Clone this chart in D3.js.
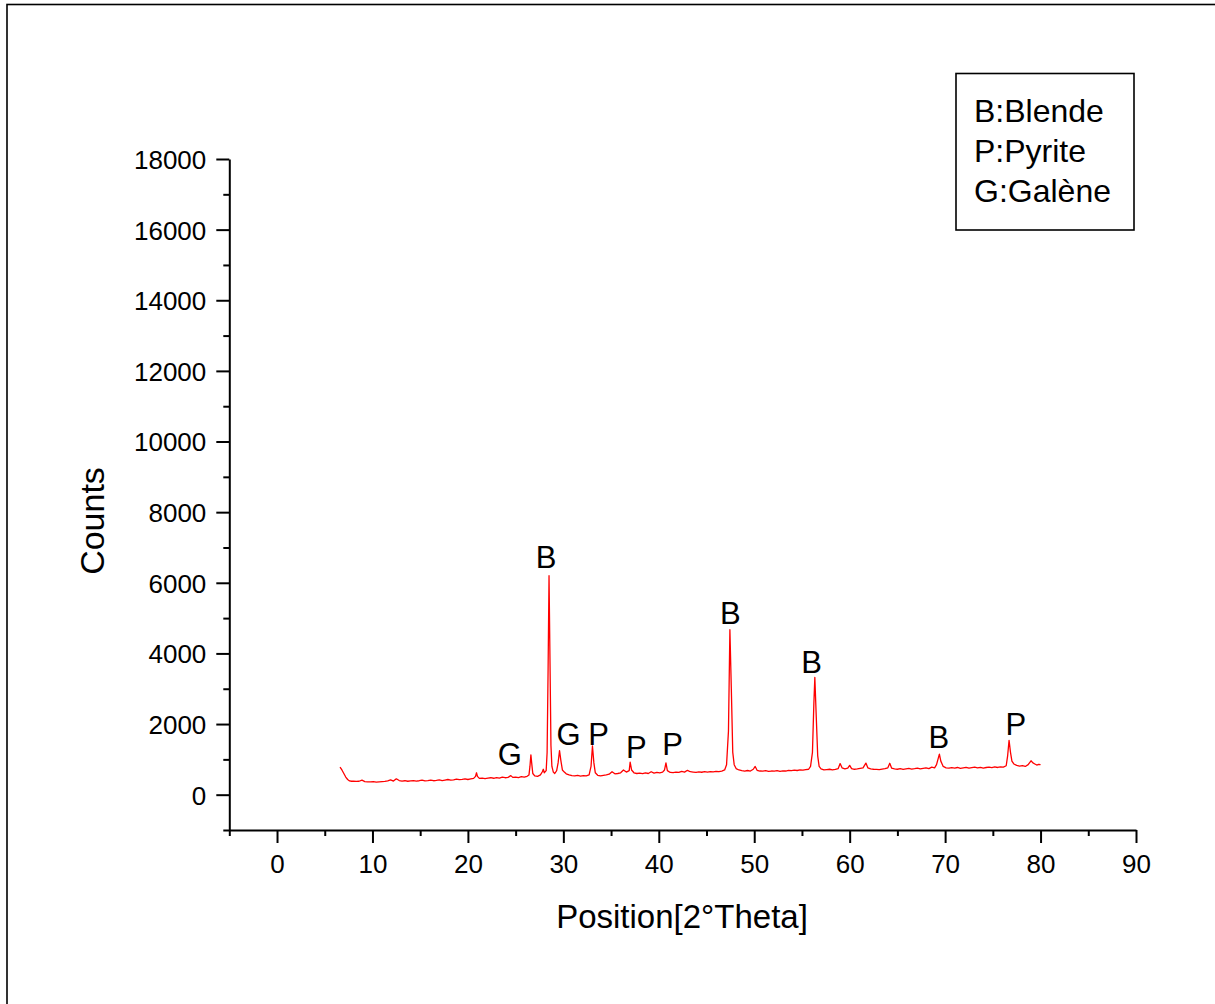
<!DOCTYPE html>
<html>
<head>
<meta charset="utf-8">
<script src="https://cdn.jsdelivr.net/npm/d3@7"></script>
<style>
  html, body { margin: 0; padding: 0; background: #fff; }
  svg { display: block; font-family: "Liberation Sans", Arial, sans-serif; }
</style>
</head>
<body>
<svg id="chart" width="1215" height="1004"></svg>
<script>
// ---- Data ----
const twoTheta = [
  6.6, 6.8, 7.0, 7.2, 7.4, 7.6, 7.8, 8.0, 8.3, 8.6, 8.9, 9.2, 9.5, 9.8, 10.1, 10.4, 10.7, 11.0, 11.3, 11.6,
  11.9, 12.2, 12.5, 12.8, 13.1, 13.4, 13.7, 14.0, 14.3, 14.6, 14.9, 15.2, 15.5, 15.8, 16.1, 16.4, 16.7, 17.0,
  17.3, 17.6, 17.9, 18.2, 18.5, 18.8, 19.1, 19.4, 19.7, 20.0, 20.3, 20.6, 20.8, 20.9, 21.0, 21.2, 21.5, 21.8,
  22.1, 22.4, 22.7, 23.0, 23.3, 23.6, 23.9, 24.2, 24.5, 24.7, 25.0, 25.3, 25.6, 25.9, 26.2, 26.4, 26.5, 26.6,
  26.7, 26.8, 27.0, 27.3, 27.6, 27.8, 27.9, 28.0, 28.2, 28.3, 28.4, 28.5, 28.6, 28.7, 28.8, 28.95, 29.1, 29.3,
  29.45, 29.6, 29.75, 29.9, 30.1, 30.3, 30.6, 30.9, 31.2, 31.5, 31.8, 32.1, 32.4, 32.7, 32.9, 33.05, 33.2, 33.35,
  33.6, 33.9, 34.2, 34.5, 34.8, 35.1, 35.4, 35.7, 36.0, 36.3, 36.6, 36.9, 37.0, 37.15, 37.4, 37.7, 38.0, 38.3,
  38.6, 38.9, 39.2, 39.5, 39.8, 40.1, 40.4, 40.6, 40.75, 40.9, 41.2, 41.5, 41.8, 42.1, 42.4, 42.7, 43.0, 43.3,
  43.6, 43.9, 44.2, 44.5, 44.8, 45.1, 45.4, 45.7, 46.0, 46.3, 46.6, 46.9, 47.1, 47.3, 47.45, 47.6, 47.75, 47.9,
  48.1, 48.4, 48.7, 49.0, 49.3, 49.6, 49.9, 50.1, 50.3, 50.6, 50.9, 51.2, 51.5, 51.8, 52.1, 52.4, 52.7, 53.0,
  53.3, 53.6, 53.9, 54.2, 54.5, 54.8, 55.1, 55.4, 55.7, 55.9, 56.1, 56.25, 56.35, 56.5, 56.65, 56.8, 57.0, 57.3,
  57.6, 57.9, 58.2, 58.5, 58.8, 59.0, 59.2, 59.5, 59.8, 60.0, 60.2, 60.5, 60.8, 61.1, 61.4, 61.7, 61.9, 62.2,
  62.5, 62.8, 63.1, 63.4, 63.7, 64.0, 64.2, 64.4, 64.7, 65.0, 65.3, 65.6, 65.9, 66.2, 66.5, 66.8, 67.1, 67.4,
  67.7, 68.0, 68.3, 68.6, 68.9, 69.1, 69.3, 69.4, 69.55, 69.8, 70.1, 70.4, 70.7, 71.0, 71.3, 71.6, 71.9, 72.2,
  72.5, 72.8, 73.1, 73.4, 73.7, 74.0, 74.3, 74.6, 74.9, 75.2, 75.5, 75.8, 76.1, 76.4, 76.55, 76.7, 76.85, 77.0,
  77.2, 77.5, 77.8, 78.1, 78.4, 78.7, 79.0, 79.2, 79.4, 79.6, 79.8, 80.0
];
const counts = [
  780, 700, 600, 500, 430, 390, 380, 385, 375, 380, 410, 370, 365, 360, 370, 355, 365, 370, 375, 390,
  420, 385, 450, 400, 385, 395, 380, 390, 400, 385, 395, 410, 390, 400, 415, 395, 405, 420,
  400, 415, 430, 410, 420, 440, 425, 435, 450, 430, 445, 460, 520, 620, 520, 460, 470, 455,
  470, 480, 465, 485, 470, 495, 480, 490, 540, 490, 500, 485, 510, 495, 520, 560, 800, 1130,
  850, 600, 530, 520, 560, 650, 720, 620, 680, 1200, 3500, 6200, 3800, 1400, 800, 640, 600, 680,
  900, 1250, 950, 700, 640, 590, 560, 540, 530, 545, 525, 540, 530, 560, 800, 1380, 900, 620,
  550, 530, 545, 560, 580, 650, 590, 600, 620, 700, 640, 680, 920, 700, 620, 600, 610, 595,
  620, 600, 650, 610, 630, 620, 640, 700, 900, 680, 630, 625, 640, 630, 660, 640, 690, 650,
  640, 630, 645, 635, 650, 640, 655, 645, 660, 650, 670, 700, 850, 1800, 4670, 3000, 1200, 850,
  740, 700, 680, 670, 685, 670, 720, 800, 690, 670, 665, 680, 660, 670, 665, 680, 660, 675,
  670, 690, 680, 695, 685, 700, 695, 710, 720, 800, 1200, 2600, 3320, 2200, 1100, 800, 730, 700,
  710, 720, 705, 715, 740, 880, 760, 730, 750, 830, 740, 720, 730, 745, 760, 895, 760, 730,
  720, 715, 710, 725, 740, 760, 890, 750, 730, 720, 735, 715, 730, 745, 725, 735, 750, 730,
  745, 760, 740, 780, 760, 850, 1050, 1150, 950, 800, 760, 750, 765, 755, 770, 745, 760, 775,
  750, 765, 780, 760, 775, 755, 770, 780, 765, 785, 770, 790, 780, 820, 1100, 1540, 1200, 950,
  870, 830, 810, 820, 800, 850, 960, 900, 870, 840, 860, 850
];

// Peak annotations: phase letter and its anchor (2θ, counts)
const peakLabels = ["G", "B", "G", "P", "P", "P", "B", "B", "B", "P"];
const peakLabelX = [24.4, 28.2, 30.55, 33.7, 37.65, 41.45, 47.5, 56.0, 69.35, 77.4];
const peakLabelY = [850, 6420, 1415, 1415, 1040, 1130, 4830, 3440, 1320, 1700];

const legendLines = ["B:Blende", "P:Pyrite", "G:Galène"];

const xMajorTicks = [0, 10, 20, 30, 40, 50, 60, 70, 80, 90];
const xMinorTicks = [-5, 5, 15, 25, 35, 45, 55, 65, 75, 85];
const yMajorTicks = [0, 2000, 4000, 6000, 8000, 10000, 12000, 14000, 16000, 18000];
const yMinorTicks = [-1000, 1000, 3000, 5000, 7000, 9000, 11000, 13000, 15000, 17000];

const xTitle = "Position[2°Theta]";
const yTitle = "Counts";

// ---- Drawing ----
const svg = d3.select("#chart");

// outer frame
svg.append("rect")
  .attr("x", 7).attr("y", 4.5)
  .attr("width", 1230).attr("height", 1020)
  .attr("fill", "none").attr("stroke", "#000").attr("stroke-width", 1.6);

const x = d3.scaleLinear().domain([-5, 90]).range([229.3, 1136]);
const y = d3.scaleLinear().domain([-1000, 18000]).range([830, 159]);

// minor ticks
const xMinor = svg.append("g").attr("transform", "translate(0,830)")
  .call(d3.axisBottom(x).tickValues(xMinorTicks).tickSize(6).tickSizeOuter(0).tickFormat(""));
xMinor.select(".domain").remove();
const yMinor = svg.append("g").attr("transform", "translate(229.3,0)")
  .call(d3.axisLeft(y).tickValues(yMinorTicks).tickSize(6).tickSizeOuter(0).tickFormat(""));
yMinor.select(".domain").remove();

// major axes
const xAxis = svg.append("g").attr("transform", "translate(0,830)")
  .call(d3.axisBottom(x).tickValues(xMajorTicks).tickSize(13).tickSizeOuter(0).tickPadding(12).tickFormat(d3.format("d")));
const yAxis = svg.append("g").attr("transform", "translate(229.3,0)")
  .call(d3.axisLeft(y).tickValues(yMajorTicks).tickSize(13).tickSizeOuter(0).tickPadding(10).tickFormat(d3.format("d")));

[xAxis, yAxis, xMinor, yMinor].forEach(g => {
  g.selectAll("line").attr("stroke", "#000").attr("stroke-width", 2);
  g.selectAll(".domain").attr("stroke", "#000").attr("stroke-width", 2);
  g.selectAll("text").attr("fill", "#000")
    .style("font-family", '"Liberation Sans", Arial, sans-serif')
    .style("font-size", "26px");
});
yAxis.selectAll("text").attr("dy", "0.36em");

// axis titles
svg.append("text")
  .attr("x", 682).attr("y", 928)
  .attr("text-anchor", "middle")
  .style("font-size", "33px")
  .text(xTitle);
svg.append("text")
  .attr("transform", "translate(104,521) rotate(-90)")
  .attr("text-anchor", "middle")
  .style("font-size", "34px")
  .text(yTitle);

// data line
const pts = twoTheta.map((t, i) => [t, counts[i]]);
svg.append("path")
  .datum(pts)
  .attr("fill", "none")
  .attr("stroke", "#ff0000")
  .attr("stroke-width", 1.3)
  .attr("stroke-linejoin", "round")
  .attr("d", d3.line().x(d => x(d[0])).y(d => y(d[1])));

// peak labels
svg.append("g").selectAll("text")
  .data(peakLabels)
  .join("text")
  .attr("x", (d, i) => x(peakLabelX[i]))
  .attr("y", (d, i) => y(peakLabelY[i]))
  .attr("text-anchor", "middle")
  .style("font-size", "31px")
  .text(d => d);

// legend box
svg.append("rect")
  .attr("x", 956).attr("y", 73.5)
  .attr("width", 178).attr("height", 156.5)
  .attr("fill", "#fff").attr("stroke", "#000").attr("stroke-width", 1.6);
svg.append("g").selectAll("text")
  .data(legendLines)
  .join("text")
  .attr("x", 974)
  .attr("y", (d, i) => 121.7 + i * 40)
  .style("font-size", "32px")
  .text(d => d);
</script>
</body>
</html>
